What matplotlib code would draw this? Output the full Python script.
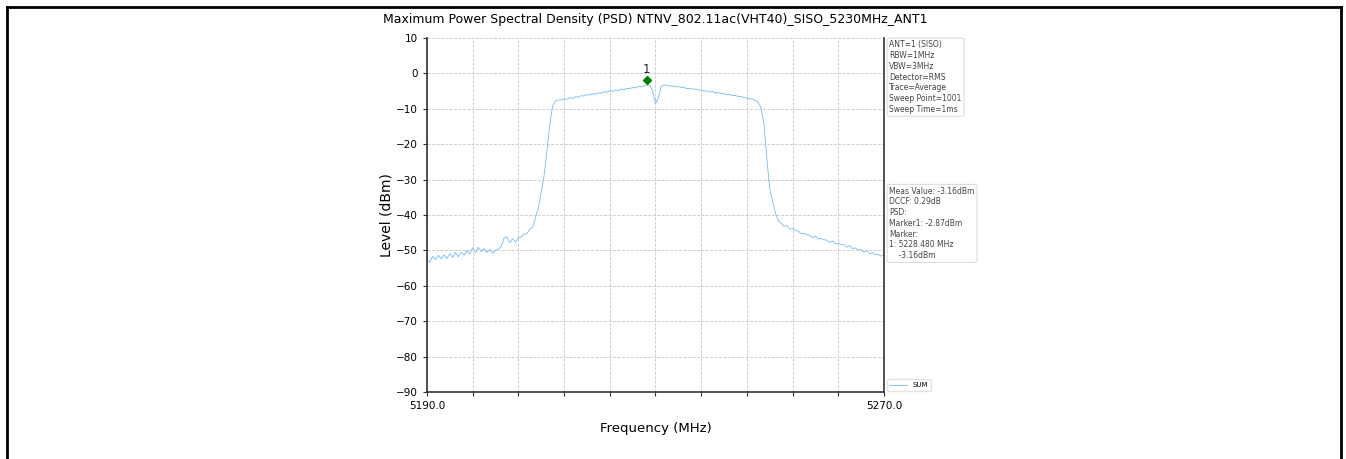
import numpy as np
import matplotlib
matplotlib.use('Agg')
import matplotlib.pyplot as plt
from matplotlib.lines import Line2D

# measured trace, 0.5 MHz step from 5190 to 5270 MHz
freq_start = 5190.0
freq_stop = 5270.0
level_dbm = [
    -52.6, -53.4, -51.7, -52.6, -51.4, -52.4, -51.3, -52.3, -50.9, -52.0,
    -50.6, -51.8, -50.5, -51.4, -50.1, -51.0, -49.2, -50.7, -49.1, -50.3,
    -49.5, -50.6, -49.7, -50.8, -50.0, -49.6, -48.9, -46.5, -46.2, -47.8,
    -46.7, -47.7, -46.5, -46.2, -45.4, -45.3, -44.0, -43.6, -40.8, -38.0,
    -33.5, -29.0, -22.0, -14.5, -9.2, -7.8, -7.5, -7.5, -7.2, -7.3,
    -6.9, -7.0, -6.6, -6.7, -6.3, -6.4, -6.0, -6.1, -5.7, -5.9,
    -5.5, -5.6, -5.2, -5.3, -4.9, -5.1, -4.7, -4.8, -4.4, -4.6,
    -4.2, -4.3, -4.0, -4.1, -3.7, -3.8, -3.5, -3.3, -3.4, -4.8,
    -8.6, -6.9, -3.6, -3.3, -3.4, -3.6, -3.5, -3.8, -3.7, -4.0,
    -4.0, -4.3, -4.2, -4.5, -4.4, -4.7, -4.7, -5.0, -4.9, -5.2,
    -5.1, -5.5, -5.4, -5.7, -5.7, -6.0, -5.9, -6.3, -6.2, -6.6,
    -6.5, -6.9, -6.9, -7.2, -7.2, -7.6, -8.2, -9.8, -14.5, -24.0,
    -32.5, -36.0, -39.5, -41.5, -42.3, -43.2, -43.0, -44.0, -43.9, -44.3,
    -44.6, -45.3, -45.2, -45.6, -45.7, -46.4, -45.9, -46.8, -46.6, -47.0,
    -47.1, -47.8, -47.3, -48.2, -48.0, -48.3, -48.4, -49.1, -48.6, -49.5,
    -49.3, -49.8, -49.8, -50.5, -50.0, -50.9, -50.7, -51.2, -51.2, -51.6,
    -51.4,
]
freq_mhz = np.linspace(freq_start, freq_stop, len(level_dbm))

marker_freq = 5228.48
marker_level = -2.0
marker_label = '1'

title = 'Maximum Power Spectral Density (PSD) NTNV_802.11ac(VHT40)_SISO_5230MHz_ANT1'
setup_text = ['ANT=1 (SISO)', 'RBW=1MHz', 'VBW=3MHz', 'Detector=RMS',
              'Trace=Average', 'Sweep Point=1001', 'Sweep Time=1ms']
result_text = ['Meas Value: -3.16dBm', 'DCCF: 0.29dB', 'PSD:', 'Marker1: -2.87dBm',
               'Marker:', '1: 5228.480 MHz', '    -3.16dBm']
y_ticks = [10, 0, -10, -20, -30, -40, -50, -60, -70, -80, -90]

fig = plt.figure(figsize=(13.46, 4.59), dpi=100)
ax = fig.add_axes([0.3172, 0.1460, 0.3395, 0.7712])

ax.plot(freq_mhz, level_dbm, color='#74bbf4', linewidth=0.6, label='SUM')
ax.plot([marker_freq], [marker_level], marker='D', markersize=4.5, color='green', linestyle='none')
ax.annotate(marker_label, (marker_freq, marker_level), xytext=(0, 3), textcoords='offset points',
            ha='center', va='bottom', fontsize=8.5, color='#222222')

ax.set_xlim(freq_start, freq_stop)
ax.set_ylim(-90, 10)
xt = np.linspace(freq_start, freq_stop, 11)
ax.set_xticks(xt)
ax.set_xticklabels(['%.1f' % freq_start] + [''] * 9 + ['%.1f' % freq_stop])
ax.set_yticks(y_ticks)
ax.tick_params(labelsize=7.5, length=3, color='#333333')
ax.grid(True, linestyle='--', color='#c8c8c8', linewidth=0.6)

ax.set_title(title, fontsize=9, pad=11)
ax.set_xlabel('Frequency (MHz)', fontsize=9.5, labelpad=8)
ax.set_ylabel('Level (dBm)', fontsize=10, labelpad=2)
ax.spines['top'].set_visible(False)
for s in ['left', 'bottom', 'right']:
    ax.spines[s].set_color('#333333')
    ax.spines[s].set_linewidth(1.2)

box = dict(boxstyle='round,pad=0.3', facecolor='white', edgecolor='#dddddd', linewidth=0.8)
ax.text(1.012, 0.993, '\n'.join(setup_text), transform=ax.transAxes, fontsize=5.5,
        va='top', ha='left', color='#444444', bbox=box, linespacing=1.25)
ax.text(1.012, 0.58, '\n'.join(result_text), transform=ax.transAxes, fontsize=5.5,
        va='top', ha='left', color='#444444', bbox=box, linespacing=1.25)
ax.legend(loc='lower left', bbox_to_anchor=(1.0, -0.005), fontsize=5, frameon=True,
          edgecolor='#dddddd', handlelength=2.5, borderaxespad=0.4)

# page frame of the report around the figure
fw, fh = 1346.0, 459.0
frame = dict(color='black', linewidth=2, transform=fig.transFigure)
fig.add_artist(Line2D([6.5 / fw, 1341 / fw], [1 - 6.5 / fh, 1 - 6.5 / fh], **frame))
fig.add_artist(Line2D([6.5 / fw, 6.5 / fw], [0, 1 - 6.5 / fh], **frame))
fig.add_artist(Line2D([1341 / fw, 1341 / fw], [0, 1 - 6.5 / fh], **frame))

fig.savefig('out.png', dpi=100)
